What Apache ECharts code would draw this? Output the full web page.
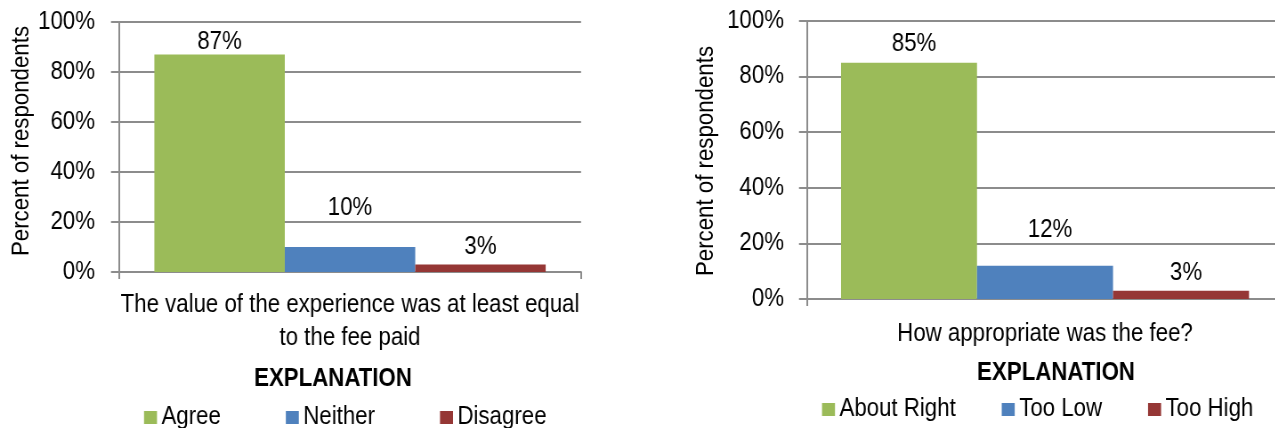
<!DOCTYPE html>
<html>
<head>
<meta charset="utf-8">
<script src="https://cdn.jsdelivr.net/npm/echarts@6/dist/echarts.min.js"></script>
<style>
  html, body { margin: 0; padding: 0; background: #ffffff; overflow: hidden; width: 1275px; height: 428px; }
  /* The chart is laid out wide and squeezed horizontally, which gives the
     narrow-typeface look of the labels. It is a little wider than the page
     because the right-hand plot runs past the edge. */
  #chart { width: 1461px; height: 428px; transform: scaleX(0.89); transform-origin: 0 0; }
</style>
</head>
<body>
<div id="chart"></div>
<script>
// Survey responses, in percent of respondents
const valueQuestion = 'The value of the experience was at least equal\nto the fee paid';
const valueNames = ['Agree', 'Neither', 'Disagree'];
const valueShares = [87, 10, 3];

const feeQuestion = 'How appropriate was the fee?';
const feeNames = ['About Right', 'Too Low', 'Too High'];
const feeShares = [85, 12, 3];

const yTicks = [0, 20, 40, 60, 80, 100];
const yTitle = 'Percent of respondents';
const colors = ['#9BBB59', '#4F81BD', '#953735'];

const SQUEEZE = 0.89;                 // horizontal squeeze applied by CSS
const X = v => v / SQUEEZE;           // on-screen x distance -> layout x distance
const FONT = "'Liberation Sans', Arial, sans-serif";
const FS = 25;
const GRID_GRAY = '#8c8c8c';

function yAxisFor(gridIndex, labelMargin) {
  return {
    type: 'value',
    gridIndex: gridIndex,
    min: yTicks[0],
    max: yTicks[yTicks.length - 1],
    interval: yTicks[1] - yTicks[0],
    axisLine: { show: true, lineStyle: { color: GRID_GRAY, width: 2 } },
    axisTick: { show: true, length: X(8), lineStyle: { color: GRID_GRAY, width: 2 } },
    axisLabel: {
      fontFamily: FONT, fontSize: FS, color: '#000', margin: X(labelMargin),
      formatter: v => v + '%'
    },
    splitLine: { show: true, lineStyle: { color: GRID_GRAY, width: 2 } }
  };
}

function xAxisFor(gridIndex, label, margin) {
  return {
    type: 'category',
    gridIndex: gridIndex,
    data: [label],
    axisLine: { show: true, lineStyle: { color: GRID_GRAY, width: 2 } },
    axisTick: { show: true, length: 7, lineStyle: { color: GRID_GRAY, width: 2 } },
    axisLabel: {
      fontFamily: FONT, fontSize: FS, color: '#000', margin: margin, lineHeight: 33
    }
  };
}

// lift: gap between each bar top and its value label; shiftX: sideways nudge
function barSeries(names, values, axisIndex, gap, lift, shiftX) {
  return names.map((n, i) => ({
    name: n,
    type: 'bar',
    xAxisIndex: axisIndex,
    yAxisIndex: axisIndex,
    data: [values[i]],
    barGap: '0%',
    barCategoryGap: gap,
    itemStyle: { color: colors[i] },
    label: {
      show: true, position: 'top', distance: lift[i], offset: [X(shiftX), 0],
      fontFamily: FONT, fontSize: FS, color: '#000',
      formatter: p => p.value + '%'
    }
  }));
}

// Rotated y-axis title; scaled so that after the horizontal squeeze the
// glyphs keep their height and the run of text is narrowed along its length.
function yTitleText(cx, cy) {
  return {
    type: 'text',
    x: X(cx), y: cy,
    rotation: Math.PI / 2,
    scaleX: SQUEEZE,
    scaleY: 1 / SQUEEZE,
    style: {
      text: yTitle, fontFamily: FONT, fontSize: FS, fill: '#000',
      align: 'center', verticalAlign: 'middle'
    }
  };
}

function legendFor(names, left, top, gap) {
  return {
    data: names, left: X(left), top: top, padding: 0,
    itemWidth: X(13), itemHeight: 13, itemGap: X(gap), icon: 'rect',
    textStyle: { fontFamily: FONT, fontSize: FS, color: '#000' }
  };
}

function heading(cx, top) {
  return {
    text: 'EXPLANATION', left: X(cx), top: top, padding: 0, textAlign: 'center',
    textStyle: { fontFamily: FONT, fontSize: FS, fontWeight: 'bold', color: '#000' }
  };
}

const chart = echarts.init(document.getElementById('chart'), null, { renderer: 'canvas' });

chart.setOption({
  animation: false,
  color: colors,
  grid: [
    { left: X(119), top: 22, width: X(462), height: 250 },
    { left: X(807), top: 21, width: X(476), height: 278 }
  ],
  title: [heading(333, 367), heading(1056, 361)],
  legend: [
    legendFor(valueNames, 144, 405, 65),
    legendFor(feeNames, 822, 397, 46)
  ],
  graphic: [yTitleText(22, 141), yTitleText(706, 161)],
  xAxis: [xAxisFor(0, valueQuestion, 17), xAxisFor(1, feeQuestion, 19)],
  yAxis: [yAxisFor(0, 24), yAxisFor(1, 23)],
  series: [
    ...barSeries(valueNames, valueShares, 0, '15.3%', [0, 26, 5], 0),
    ...barSeries(feeNames, feeShares, 1, '14.3%', [6, 23, 5], 5)
  ]
});
</script>
</body>
</html>
